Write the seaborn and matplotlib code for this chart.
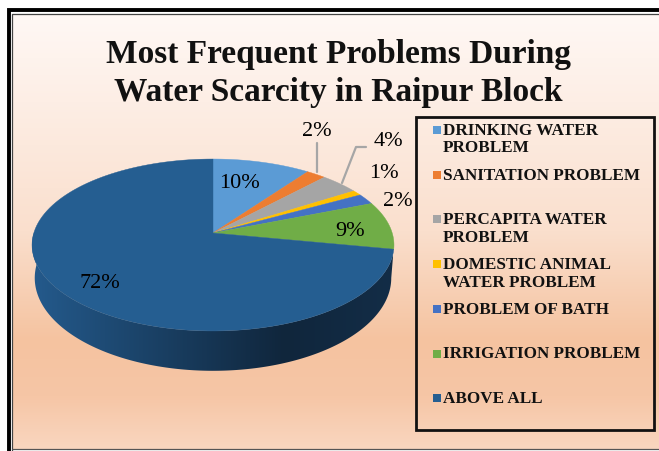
import numpy as np
import matplotlib
matplotlib.use("Agg")
import matplotlib.pyplot as plt
from matplotlib.colors import LinearSegmentedColormap
from matplotlib.patches import Polygon, Rectangle
import seaborn as sns

sns.set_theme(style="white")
plt.rcParams["font.family"] = ["Liberation Serif", "DejaVu Serif"]

TITLE_LINES = ["Most Frequent Problems During", "Water Scarcity in Raipur Block"]
CATEGORIES = [
    "DRINKING WATER\nPROBLEM",
    "SANITATION PROBLEM",
    "PERCAPITA WATER\nPROBLEM",
    "DOMESTIC ANIMAL\nWATER PROBLEM",
    "PROBLEM OF BATH",
    "IRRIGATION PROBLEM",
    "ABOVE ALL",
]
VALUES = [10, 2, 4, 1, 2, 9, 72]
COLORS = ["#5b9bd5", "#ed7d31", "#a5a5a5", "#ffc000", "#4472c4", "#70ad47", "#255e91"]
PALETTE = sns.color_palette(COLORS)

# pie geometry in image pixels; the tilt makes the apex sit above the ellipse centre
CX, CY = 213, 233
AX_X, AX_Y, TILT = 179.2, 84.3, 0.1395
LABEL_POS = [(239, 184), (317, 132), (388, 141), (384, 174), (398, 201), (350, 231), (100, 283)]


def rim(theta, xscale=1.0, yscale=1.0, drop=0.0):
    w = 1 + TILT * np.cos(theta)
    x = CX + xscale * AX_X * np.sin(theta) / w
    y = CY + drop - yscale * AX_Y * np.cos(theta) / w
    return x, y


fig = plt.figure(figsize=(6.59, 4.51), dpi=100)
ax = fig.add_axes([0, 0, 1, 1])
ax.set_xlim(0, 659)
ax.set_ylim(451, 0)
ax.axis("off")

# background
bg = LinearSegmentedColormap.from_list(
    "bg", [(0, "#fff8f5"), (0.5, "#fadfcd"), (0.75, "#f5c3a0"), (0.88, "#f6c6a6"), (1, "#f9d6bf")]
)
ax.imshow(np.linspace(0, 1, 256).reshape(-1, 1), cmap=bg, aspect="auto",
          extent=(12, 659, 449, 14), zorder=0)

# frame
ax.plot([659, 9, 9], [9.5, 9.5, 451], color="black", lw=2.8, solid_joinstyle="miter", zorder=1)
ax.plot([659, 12, 12], [13.5, 13.5, 451], color="#444444", lw=0.9, zorder=1)
ax.plot([12, 659], [448.5, 448.5], color="#555555", lw=0.9, zorder=1)

# side wall
t = np.linspace(np.pi / 2 + 0.14, 3 * np.pi / 2, 200)
tx, ty = rim(t)
bx, by = rim(t, xscale=0.985, yscale=1.08, drop=32)
wall = Polygon(np.r_[np.c_[tx, ty], np.c_[bx, by][::-1]], closed=True, fc="none", ec="none")
ax.add_patch(wall)
wall_cmap = LinearSegmentedColormap.from_list(
    "wall", [(0, "#245a8c"), (0.2, "#1e4b75"), (0.7, "#10263c"), (1, "#132d47")]
)
im = ax.imshow(np.linspace(0, 1, 256).reshape(1, -1), cmap=wall_cmap, aspect="auto",
               extent=(32, 393, 451, 0), zorder=2)
im.set_clip_path(wall)

# top of the pie, starting at 12 o'clock and going clockwise
edges = 2 * np.pi * np.r_[0, np.cumsum(VALUES)] / np.sum(VALUES)
for i, color in enumerate(PALETTE):
    th = np.linspace(edges[i], edges[i + 1], 120)
    x, y = rim(th)
    pts = np.r_[[[CX, CY]], np.c_[x, y]]
    ax.add_patch(Polygon(pts, closed=True, fc=color, ec=color, lw=0.3, zorder=3))

# leader lines
ax.plot([317, 317], [172, 143], color="#a6a6a6", lw=1.6, zorder=4)
ax.plot([342, 356, 366], [183, 147, 147], color="#a6a6a6", lw=1.6, zorder=4)

# labels
for v, (lx, ly) in zip(VALUES, LABEL_POS):
    ax.text(lx, ly, f"{v}%", ha="center", va="center", fontsize=16, color="black", zorder=5)

for line, ty_ in zip(TITLE_LINES, [54, 92]):
    ax.text(338, ty_, line, ha="center", va="center", fontsize=24, fontweight="bold",
            color="#111111", zorder=5)

# legend
ax.add_patch(Rectangle((416, 117), 238, 313, fc="none", ec="#111111", lw=2, zorder=5))
for i, (name, color) in enumerate(zip(CATEGORIES, PALETTE)):
    my = 130 + 44.7 * i
    ax.add_patch(Rectangle((433, my - 4), 8, 8, fc=color, ec="none", zorder=5))
    ax.text(443, my - 7, name, ha="left", va="top", fontsize=12.3, fontweight="bold",
            color="#111111", linespacing=1.12, zorder=5)

fig.savefig("out.png", dpi=100)
